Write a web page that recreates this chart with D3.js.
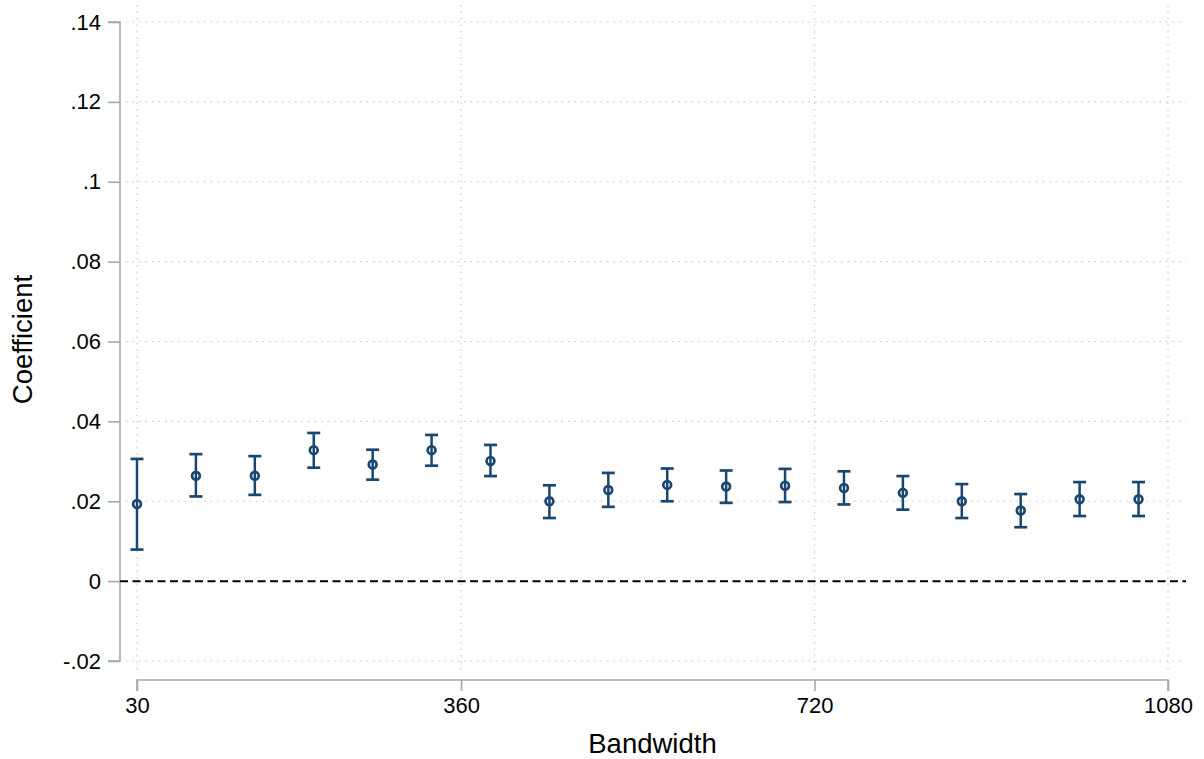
<!DOCTYPE html>
<html>
<head>
<meta charset="utf-8">
<script src="https://cdn.jsdelivr.net/npm/d3@7"></script>
<style>
  html, body { margin: 0; padding: 0; background: #fff; }
  svg { display: block; font-family: "Liberation Sans", Arial, sans-serif; }
</style>
</head>
<body>
<svg id="chart" width="1204" height="759"></svg>
<script>
const bandwidth = [30, 90, 150, 210, 270, 330, 390, 450, 510, 570, 630, 690, 750, 810, 870, 930, 990, 1050];
const coef  = [0.0193, 0.0264, 0.0264, 0.0328, 0.0292, 0.0328, 0.0301, 0.0200, 0.0228, 0.0241, 0.0237, 0.0239, 0.0233, 0.0221, 0.0200, 0.0177, 0.0205, 0.0205];
const upper = [0.0306, 0.0318, 0.0313, 0.0371, 0.0329, 0.0366, 0.0341, 0.0240, 0.0271, 0.0282, 0.0277, 0.0281, 0.0275, 0.0263, 0.0243, 0.0218, 0.0248, 0.0248];
const lower = [0.0079, 0.0212, 0.0216, 0.0284, 0.0254, 0.0289, 0.0263, 0.0158, 0.0186, 0.0200, 0.0196, 0.0198, 0.0192, 0.0179, 0.0158, 0.0135, 0.0163, 0.0163];
const xTicks = [30, 360, 720, 1080];
const yTicks = [-0.02, 0, 0.02, 0.04, 0.06, 0.08, 0.10, 0.12, 0.14];
const yTickLabels = ["-.02", "0", ".02", ".04", ".06", ".08", ".1", ".12", ".14"];
const xTitle = "Bandwidth";
const yTitle = "Coefficient";

const navy = "#1a476f";
const axisGray = "#a8a8a8";
const gridGray = "#c8c8c8";

const svg = d3.select("#chart");
const plotLeft = 120, plotRight = 1186, plotTop = 5, plotBottom = 673;

const x = d3.scaleLinear().domain([30, 1080]).range([137, 1168]);
const y = d3.scaleLinear().domain([-0.02, 0.14]).range([661, 22]);

// grid: horizontal
svg.append("g").selectAll("line").data(yTicks.filter(d => d !== 0)).join("line")
  .attr("x1", plotLeft + 6).attr("x2", plotRight)
  .attr("y1", d => y(d)).attr("y2", d => y(d))
  .attr("stroke", gridGray).attr("stroke-width", 1.2)
  .attr("stroke-dasharray", "1.5,5");
// grid: vertical
svg.append("g").selectAll("line").data(xTicks).join("line")
  .attr("x1", d => x(d)).attr("x2", d => x(d))
  .attr("y1", plotTop).attr("y2", plotBottom)
  .attr("stroke", gridGray).attr("stroke-width", 1.2)
  .attr("stroke-dasharray", "1.5,5");

// y axis
const yAxis = d3.axisLeft(y).tickValues(yTicks).tickSize(12).tickPadding(7)
  .tickFormat((d, i) => yTickLabels[i]);
const gy = svg.append("g").attr("transform", `translate(${plotLeft},0)`).call(yAxis);
gy.select(".domain").attr("stroke", axisGray).attr("stroke-width", 1.6)
  .attr("d", `M-12,${y(0.14)}H0V${y(-0.02)}H-12`);
gy.selectAll(".tick line").attr("stroke", axisGray).attr("stroke-width", 1.6);
gy.selectAll(".tick text").attr("font-size", 22).attr("fill", "#000")
  .attr("font-family", "Liberation Sans, Arial, sans-serif");

// x axis
const xAxis = d3.axisBottom(x).tickValues(xTicks).tickSize(11).tickPadding(6)
  .tickFormat(d3.format("d"));
const gx = svg.append("g").attr("transform", `translate(0,680)`).call(xAxis);
gx.select(".domain").attr("stroke", axisGray).attr("stroke-width", 1.6)
  .attr("d", `M${x(30)},11V0H${x(1080)}V11`);
gx.selectAll(".tick line").attr("stroke", axisGray).attr("stroke-width", 1.6);
gx.selectAll(".tick text").attr("font-size", 22).attr("fill", "#000")
  .attr("font-family", "Liberation Sans, Arial, sans-serif");

// zero reference line
svg.append("line")
  .attr("x1", plotLeft).attr("x2", plotRight)
  .attr("y1", y(0)).attr("y2", y(0))
  .attr("stroke", "#000").attr("stroke-width", 2)
  .attr("stroke-dasharray", "8,4.5");

// error bars
const rows = bandwidth.map((b, i) => ({ b, c: coef[i], lo: lower[i], hi: upper[i] }));
const eb = svg.append("g");
eb.selectAll("line.v").data(rows).join("line").attr("class", "v")
  .attr("x1", d => x(d.b)).attr("x2", d => x(d.b))
  .attr("y1", d => y(d.hi)).attr("y2", d => y(d.lo))
  .attr("stroke", navy).attr("stroke-width", 2.5);
eb.selectAll("line.ct").data(rows).join("line").attr("class", "ct")
  .attr("x1", d => x(d.b) - 6.5).attr("x2", d => x(d.b) + 6.5)
  .attr("y1", d => y(d.hi)).attr("y2", d => y(d.hi))
  .attr("stroke", navy).attr("stroke-width", 2.7);
eb.selectAll("line.cb").data(rows).join("line").attr("class", "cb")
  .attr("x1", d => x(d.b) - 6.5).attr("x2", d => x(d.b) + 6.5)
  .attr("y1", d => y(d.lo)).attr("y2", d => y(d.lo))
  .attr("stroke", navy).attr("stroke-width", 2.7);

// markers
svg.append("g").selectAll("circle").data(rows).join("circle")
  .attr("cx", d => x(d.b)).attr("cy", d => y(d.c)).attr("r", 3.9)
  .attr("fill", "none").attr("stroke", navy).attr("stroke-width", 2.7);

// titles
svg.append("text").attr("x", x(555)).attr("y", 753)
  .attr("text-anchor", "middle").attr("font-size", 27.5).text(xTitle);
svg.append("text").attr("transform", `translate(32,${(y(0.14) + y(-0.02)) / 2 - 2}) rotate(-90)`)
  .attr("text-anchor", "middle").attr("font-size", 27.5).text(yTitle);
</script>
</body>
</html>
